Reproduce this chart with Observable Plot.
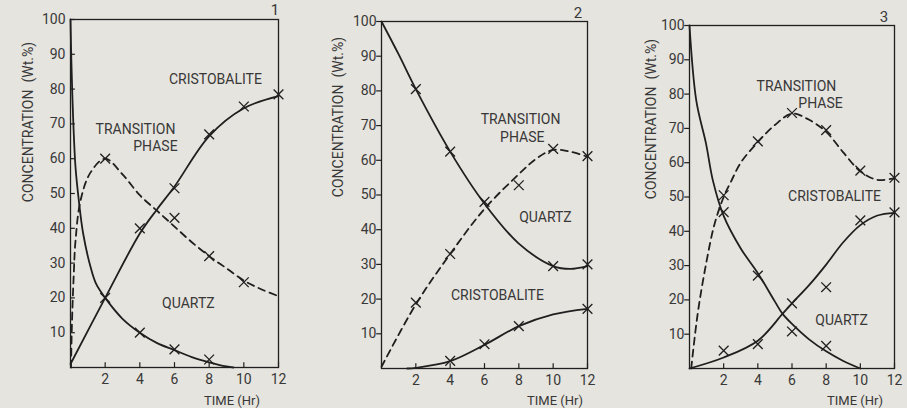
<!DOCTYPE html>
<html><head><meta charset="utf-8">
<script src="https://cdn.jsdelivr.net/npm/d3@7"></script>
<script src="https://cdn.jsdelivr.net/npm/@observablehq/plot@0.6"></script>
<style>
body{margin:0;background:#e6e4de;}
#wrap{position:relative;width:907px;height:408px;background:#e6e4de;overflow:hidden}
#wrap svg{position:absolute;top:0}
</style></head><body><div id="wrap"></div>
<script>
const xTicks = [2, 4, 6, 8, 10, 12];
const yTicks = [10, 20, 30, 40, 50, 60, 70, 80, 90, 100];
const panelNames = ["1", "2", "3"];
const xTitle = "TIME (Hr)";
const yTitle = "CONCENTRATION  (Wt.%)";

// Panel 1 — curves
const p1QuartzX = [0, 0.05, 0.15, 0.29, 0.48, 0.73, 1.15, 1.48, 2, 3, 4, 5, 6, 7, 8, 9, 9.4];
const p1QuartzY = [100, 88, 72, 57.5, 48, 38.5, 29, 24, 20, 14, 10, 7, 5, 3, 1.5, 0.3, 0];
const p1CristoX = [0, 2, 4, 5, 6, 8, 10, 12];
const p1CristoY = [1, 20, 38.5, 45.5, 52, 66.5, 74.5, 78];
const p1TransX = [0.03, 0.08, 0.19, 0.29, 0.58, 1.15, 2, 3, 4, 5, 6, 7, 8, 9, 10, 11, 12];
const p1TransY = [0, 12, 27, 36.5, 48, 56, 60, 55.5, 49.5, 45, 40.5, 36, 32, 28.5, 25, 22.5, 20.5];
// Panel 1 — measured points (x marks)
const p1PtX = [2, 6, 8, 10, 2, 4, 6, 8, 10, 12, 4, 6, 8];
const p1PtY = [60, 43, 32, 24.5, 20, 40, 51.5, 67, 75, 78.5, 10, 5.2, 2.3];

// Panel 2 — curves
const p2QuartzX = [0, 1, 2, 4, 6, 8, 10, 11, 12];
const p2QuartzY = [100, 90.5, 80.5, 62.5, 47.5, 36, 29.5, 28.7, 29.5];
const p2TransX = [0, 2, 4, 6, 8, 9, 10, 11, 12];
const p2TransY = [0.5, 18.5, 33, 46, 56, 60.4, 63, 62.5, 61];
const p2CristoX = [1.5, 2, 4, 6, 8, 10, 12];
const p2CristoY = [0, 0.2, 2.1, 6.8, 12.2, 15.6, 17.2];
const p2PtX = [2, 4, 6, 8, 10, 12, 2, 4, 10, 12, 4, 6, 8, 12];
const p2PtY = [19, 33, 48, 52.8, 63.3, 61.2, 80.5, 62.5, 29.5, 30, 2.2, 7, 12.2, 17.2];

// Panel 3 — curves
const p3QuartzX = [0, 0.4, 0.97, 1.36, 2, 3, 4, 5, 5.44, 6, 7, 8, 9, 10];
const p3QuartzY = [100, 78, 65.5, 55, 44.5, 35, 27.8, 19.5, 16, 13, 8.5, 5, 2.2, 0];
const p3TransX = [0.1, 0.48, 0.97, 1.46, 2, 2.43, 3, 4, 5, 6, 7, 8, 9, 10, 11, 12];
const p3TransY = [0, 16, 30.5, 42, 50, 54.5, 60, 66, 71, 74.3, 72.5, 69, 63, 57.5, 55, 55.5];
const p3CristoX = [0, 2, 4, 5.44, 6, 7, 8, 9, 10, 11, 12];
const p3CristoY = [0, 3.2, 8.1, 15.9, 19, 24.3, 30.3, 36.8, 41.8, 44.6, 45.4];
const p3PtX = [2, 4, 6, 8, 10, 12, 2, 4, 6, 8, 2, 4, 6, 8, 10, 12];
const p3PtY = [50.5, 66.2, 74.5, 69.5, 57.7, 55.6, 45.6, 27.1, 10.8, 6.6, 5.2, 7.1, 19, 23.7, 43.2, 45.5];

const ink = "#1f1f1f";
const txt = "#383838";
const font = "Roboto, 'Liberation Sans', sans-serif";
const pts = (xs, ys) => xs.map((x, i) => ({x, y: ys[i]}));

function panel(o) {
  const lines = o.curves.map(c => Plot.line(pts(c.x, c.y), {
    x: "x", y: "y", curve: "catmull-rom", stroke: ink, strokeWidth: 1.8,
    strokeDasharray: c.dashed ? "7,5" : null
  }));
  const chart = Plot.plot({
    width: o.width, height: 408,
    marginLeft: o.ml, marginRight: o.mr, marginTop: o.mt, marginBottom: 408 - o.bottom,
    style: {fontFamily: font, fontSize: "14px", color: txt, background: "transparent"},
    x: {domain: [0, 12], ticks: xTicks, tickSize: 0, tickPadding: 7, label: null},
    y: {domain: [0, 100], ticks: yTicks, tickSize: 0, tickPadding: 5, label: null},
    marks: [
      Plot.frame({stroke: ink, strokeWidth: 1.3}),
      Plot.ruleX(xTicks, {x: d => d, y1: 0, y2: 1.4, stroke: ink, strokeWidth: 1.2}),
      Plot.ruleY(yTicks, {y: d => d, x1: o.tickIn ? 0 : -0.28, x2: o.tickIn ? 0.28 : 0, stroke: ink, strokeWidth: 1.2}),
      ...lines,
      Plot.dot(pts(o.px, o.py), {x: "x", y: "y", symbol: "times", r: 4.5, stroke: ink, strokeWidth: 1.3}),
      Plot.text(o.labels, {x: "x", y: "y", text: "t", fill: txt, fontSize: 14, fontFamily: font})
    ]
  });
  chart.style.left = o.left + "px";
  const svg = d3.select(chart);
  svg.append("text").attr("transform", `translate(${o.yt[0]},${o.yt[1]}) rotate(-90)`)
    .attr("text-anchor", "middle").attr("dy", "0.35em").attr("fill", txt)
    .style("font", `14px ${font}`).text(yTitle);
  svg.append("text").attr("x", o.xt[0]).attr("y", o.xt[1]).attr("text-anchor", "middle")
    .attr("dy", "0.35em").attr("fill", txt).style("font", `13px ${font}`).text(xTitle);
  svg.append("text").attr("x", o.nm[0]).attr("y", o.nm[1]).attr("text-anchor", "middle")
    .attr("dy", "0.35em").attr("fill", txt).style("font", `15px ${font}`).text(o.name);
  document.getElementById("wrap").appendChild(chart);
}

panel({
  left: 0, width: 300, ml: 70, mr: 22, mt: 19, bottom: 367, tickIn: true, name: panelNames[0],
  curves: [{x: p1QuartzX, y: p1QuartzY}, {x: p1CristoX, y: p1CristoY}, {x: p1TransX, y: p1TransY, dashed: true}],
  px: p1PtX, py: p1PtY,
  labels: [{x: 8.36, y: 82.7, t: "CRISTOBALITE"}, {x: 3.75, y: 68.3, t: "TRANSITION"},
           {x: 4.9, y: 63.4, t: "PHASE"}, {x: 6.8, y: 18.4, t: "QUARTZ"}],
  yt: [28, 122], xt: [232, 400], nm: [275, 10]
});
panel({
  left: 300, width: 300, ml: 81, mr: 13, mt: 21, bottom: 368, tickIn: false, name: panelNames[1],
  curves: [{x: p2QuartzX, y: p2QuartzY}, {x: p2CristoX, y: p2CristoY}, {x: p2TransX, y: p2TransY, dashed: true}],
  px: p2PtX, py: p2PtY,
  labels: [{x: 8.1, y: 71.8, t: "TRANSITION"}, {x: 8.2, y: 66.6, t: "PHASE"},
           {x: 9.55, y: 43.5, t: "QUARTZ"}, {x: 6.75, y: 21, t: "CRISTOBALITE"}],
  yt: [38, 117], xt: [255, 400], nm: [278, 13]
});
panel({
  left: 600, width: 307, ml: 89, mr: 13, mt: 25, bottom: 368, tickIn: false, name: panelNames[2],
  curves: [{x: p3QuartzX, y: p3QuartzY}, {x: p3CristoX, y: p3CristoY}, {x: p3TransX, y: p3TransY, dashed: true}],
  px: p3PtX, py: p3PtY,
  labels: [{x: 6.26, y: 82.2, t: "TRANSITION"}, {x: 7.67, y: 77.2, t: "PHASE"},
           {x: 8.49, y: 50, t: "CRISTOBALITE"}, {x: 8.9, y: 14, t: "QUARTZ"}],
  yt: [51, 119], xt: [255, 400], nm: [284, 17]
});
</script></body></html>
